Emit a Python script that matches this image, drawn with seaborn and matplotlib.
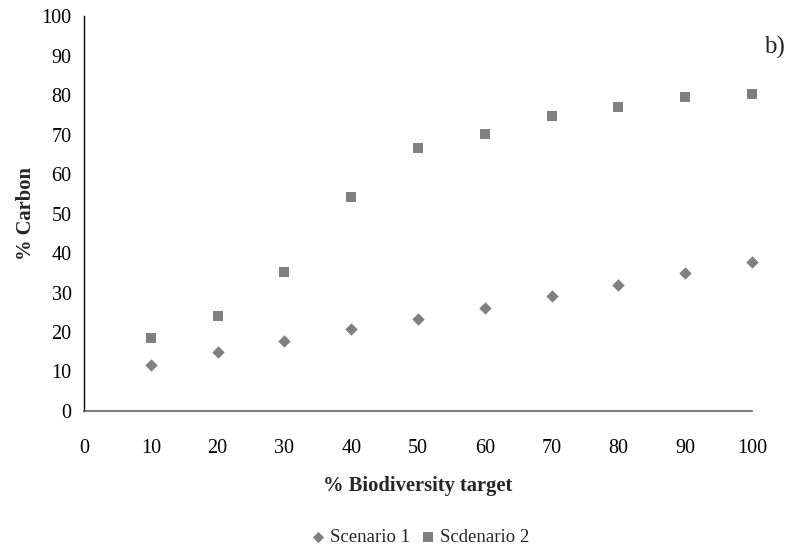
import matplotlib
matplotlib.use("Agg")
import matplotlib.pyplot as plt
import seaborn as sns
import pandas as pd

targets = [10, 20, 30, 40, 50, 60, 70, 80, 90, 100]
scenario1 = [11.6, 14.9, 17.8, 20.7, 23.3, 26.2, 29.0, 32.0, 34.9, 37.7]
scenario2 = [18.4, 24.0, 35.1, 54.3, 66.5, 70.1, 74.8, 76.9, 79.5, 80.2]
series_names = ["Scenario 1", "Scdenario 2"]
xticks = list(range(0, 101, 10))
yticks = list(range(0, 101, 10))

sns.set_style("white")
plt.rcParams["font.family"] = ["Liberation Serif", "DejaVu Serif"]

df1 = pd.DataFrame({"target": targets, "carbon": scenario1})
df2 = pd.DataFrame({"target": targets, "carbon": scenario2})

fig = plt.figure(figsize=(7.95, 5.53), dpi=100)
ax = fig.add_axes([0.1057, 0.2568, 0.8403, 0.7142])

grey = "#808080"
sns.scatterplot(data=df1, x="target", y="carbon", marker="D", s=40,
                color=grey, linewidth=0, label=series_names[0], ax=ax,
                clip_on=False)
sns.scatterplot(data=df2, x="target", y="carbon", marker="s", s=56,
                color=grey, linewidth=0, label=series_names[1], ax=ax,
                clip_on=False)

ax.set_xlim(0, 100)
ax.set_ylim(0, 100)
ax.set_xticks(xticks)
ax.set_yticks(yticks)
ax.tick_params(axis="both", labelsize=14.5, direction="out", length=5,
               width=1)
ax.tick_params(axis="x", colors="#606060", labelcolor="black", pad=15)
ax.tick_params(axis="y", colors="black", pad=4)

for side in ["top", "right"]:
    ax.spines[side].set_visible(False)
ax.spines["left"].set_color("black")
ax.spines["bottom"].set_color("#606060")
ax.spines["left"].set_linewidth(1)
ax.spines["bottom"].set_linewidth(1.2)

ax.set_xlabel("% Biodiversity target", fontsize=14.8, fontweight="bold",
              labelpad=13)
ax.set_ylabel("% Carbon", fontsize=14.8, fontweight="bold", labelpad=4)

ax.legend(loc="upper center", bbox_to_anchor=(0.5, -0.255), ncol=2,
          frameon=False, fontsize=13.5, handletextpad=0.0,
          handlelength=1.2, columnspacing=0.4, markerscale=0.9)

fig.text(0.961, 0.915, "b)", fontsize=18, ha="left", va="center")

fig.savefig("out.png", dpi=100)
